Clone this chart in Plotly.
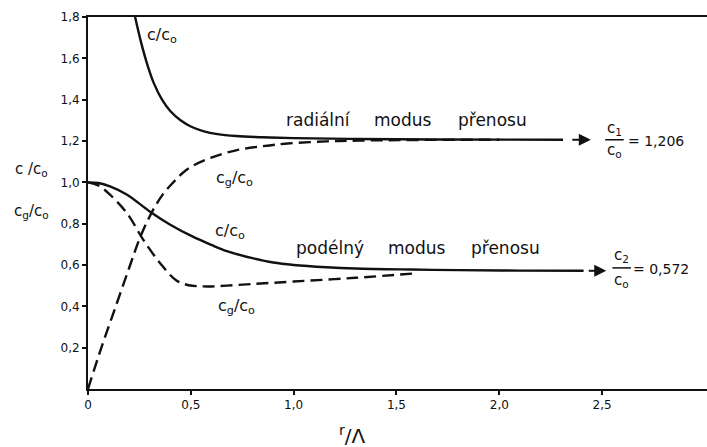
import plotly.graph_objects as go

# Radial transmission mode: phase velocity c/c0 and group velocity cg/c0 vs r/Lambda
rad_c_r = [0.229, 0.26, 0.29, 0.32, 0.36, 0.40, 0.45, 0.50, 0.56, 0.63, 0.72, 0.85, 1.0, 1.3, 1.7, 2.31]
rad_c_v = [1.80, 1.67, 1.565, 1.48, 1.40, 1.345, 1.30, 1.27, 1.248, 1.233, 1.224, 1.218, 1.214, 1.210, 1.207, 1.206]

rad_cg_r = [0, 0.065, 0.135, 0.205, 0.25, 0.29, 0.33, 0.37, 0.415, 0.46, 0.51, 0.6, 0.72, 0.85, 0.97, 1.16, 1.32, 1.6, 2.0]
rad_cg_v = [0, 0.2, 0.4, 0.6, 0.725, 0.815, 0.89, 0.95, 1.0, 1.045, 1.08, 1.12, 1.155, 1.175, 1.188, 1.198, 1.202, 1.205, 1.206]

# Longitudinal transmission mode
lon_c_r = [0, 0.05, 0.107, 0.19, 0.30, 0.40, 0.51, 0.60, 0.675, 0.8, 0.90, 1.0, 1.16, 1.3, 1.57, 1.8, 2.1, 2.41]
lon_c_v = [1.0, 0.997, 0.98, 0.94, 0.859, 0.795, 0.737, 0.697, 0.667, 0.633, 0.612, 0.60, 0.589, 0.583, 0.578, 0.575, 0.573, 0.572]

lon_cg_r = [0, 0.05, 0.107, 0.19, 0.27, 0.35, 0.43, 0.49, 0.545, 0.6, 0.675, 0.8, 1.0, 1.3, 1.6]
lon_cg_v = [1.0, 0.985, 0.94, 0.85, 0.72, 0.61, 0.525, 0.502, 0.497, 0.496, 0.50, 0.508, 0.52, 0.538, 0.56]

# Limit values
c1_lim = 1.206
c2_lim = 0.572

x_ticks = [0, 0.5, 1.0, 1.5, 2.0, 2.5]
x_labels = ["0", "0,5", "1,0", "1,5", "2,0", "2,5"]
y_ticks = [0.2, 0.4, 0.6, 0.8, 1.0, 1.2, 1.4, 1.6, 1.8]
y_labels = ["0,2", "0,4", "0,6", "0,8", "1,0", "1,2", "1,4", "1,6", "1,8"]

FONT = "DejaVu Sans"
INK = "#111111"
LW = 2.4

fig = go.Figure()

def curve(xs, ys, dash):
    fig.add_trace(go.Scatter(x=xs, y=ys, mode="lines", line_shape="spline",
                             line=dict(color=INK, width=LW, dash=dash, smoothing=1.0),
                             showlegend=False, hoverinfo="skip"))

curve(rad_c_r, rad_c_v, "solid")
curve(rad_cg_r, rad_cg_v, "12px,6px")
curve(lon_c_r, lon_c_v, "solid")
curve(lon_cg_r, lon_cg_v, "12px,6px")

# short dashes leading into the limit arrows
fig.add_trace(go.Scatter(x=[2.355, 2.43], y=[c1_lim, c1_lim], mode="lines",
                         line=dict(color=INK, width=2), showlegend=False, hoverinfo="skip"))
fig.add_trace(go.Scatter(x=[2.435, 2.475], y=[c2_lim, c2_lim], mode="lines",
                         line=dict(color=INK, width=2), showlegend=False, hoverinfo="skip"))

ann = []

def text(x, y, s, size=16, xref="x", yref="y", **kw):
    ann.append(dict(x=x, y=y, xref=xref, yref=yref, text=s, showarrow=False,
                    xanchor="center",
                    font=dict(family=FONT, size=size, color=INK), **kw))

# arrow heads
for xt, xa, yv in [(2.445, 2.42, c1_lim), (2.52, 2.47, c2_lim)]:
    ann.append(dict(x=xt, y=yv, ax=xa, ay=yv, xref="x", yref="y", axref="x", ayref="y",
                    text="", showarrow=True, arrowhead=2, arrowsize=1.2, arrowwidth=2,
                    arrowcolor=INK, standoff=0))

# curve labels
text(0.36, 1.71, "c/c<sub>o</sub>")
text(0.71, 1.02, "c<sub>g</sub>/c<sub>o</sub>")
text(0.69, 0.76, "c/c<sub>o</sub>")
text(0.72, 0.40, "c<sub>g</sub>/c<sub>o</sub>")

# mode names, one word at a time
for xw, w in [(1.12, "radiální"), (1.534, "modus"), (1.967, "přenosu")]:
    text(xw, 1.30, w, size=17)
for xw, w in [(1.175, "podélný"), (1.60, "modus"), (2.03, "přenosu")]:
    text(xw, 0.683, w, size=17)

# axis titles on the left
text(-0.092, 1.06, "c /c<sub>o</sub>", size=15, xref="paper")
text(-0.092, 0.857, "c<sub>g</sub>/c<sub>o</sub>", size=15, xref="paper")

# limit values as fractions
text(2.56, c1_lim, "c<sub>1</sub>", size=15, yshift=11)
text(2.56, c1_lim, "c<sub>o</sub>", size=15, yshift=-11)
text(2.76, c1_lim, "= 1,206", size=14, yshift=-1)
text(2.595, c2_lim, "c<sub>2</sub>", size=15, yshift=15)
text(2.595, c2_lim, "c<sub>o</sub>", size=15, yshift=-10)
text(2.785, c2_lim, "= 0,572", size=14, yshift=2)

fig.add_shape(type="line", x0=2.515, x1=2.605, y0=c1_lim, y1=c1_lim, xref="x", yref="y",
              line=dict(color=INK, width=1.5))
fig.add_shape(type="line", x0=2.55, x1=2.64, y0=c2_lim + 0.014, y1=c2_lim + 0.014,
              xref="x", yref="y", line=dict(color=INK, width=1.5))

# x-axis title r/Λ
ann.append(dict(x=0.428, y=0, xref="paper", yref="paper", yshift=-46, showarrow=False,
                text="<sup>r</sup>/Λ", xanchor="center",
                font=dict(family=FONT, size=20, color=INK), yanchor="middle"))

fig.update_layout(
    width=707, height=447,
    margin=dict(l=88, r=0, t=17, b=58),
    paper_bgcolor="white", plot_bgcolor="white",
    annotations=ann,
    xaxis=dict(range=[0, 3.01], tickvals=x_ticks, ticktext=x_labels, showgrid=False,
               zeroline=False, showline=True, linecolor=INK, linewidth=2, mirror=True,
               ticks="outside", ticklen=4, tickwidth=1.5, tickcolor=INK,
               tickfont=dict(family=FONT, size=12, color=INK)),
    yaxis=dict(range=[0, 1.8], tickvals=y_ticks, ticktext=y_labels, showgrid=False,
               zeroline=False, showline=True, linecolor=INK, linewidth=2,
               ticks="outside", ticklen=4, tickwidth=1.5, tickcolor=INK,
               tickfont=dict(family=FONT, size=12, color=INK)),
)

fig.write_html("out.html")
